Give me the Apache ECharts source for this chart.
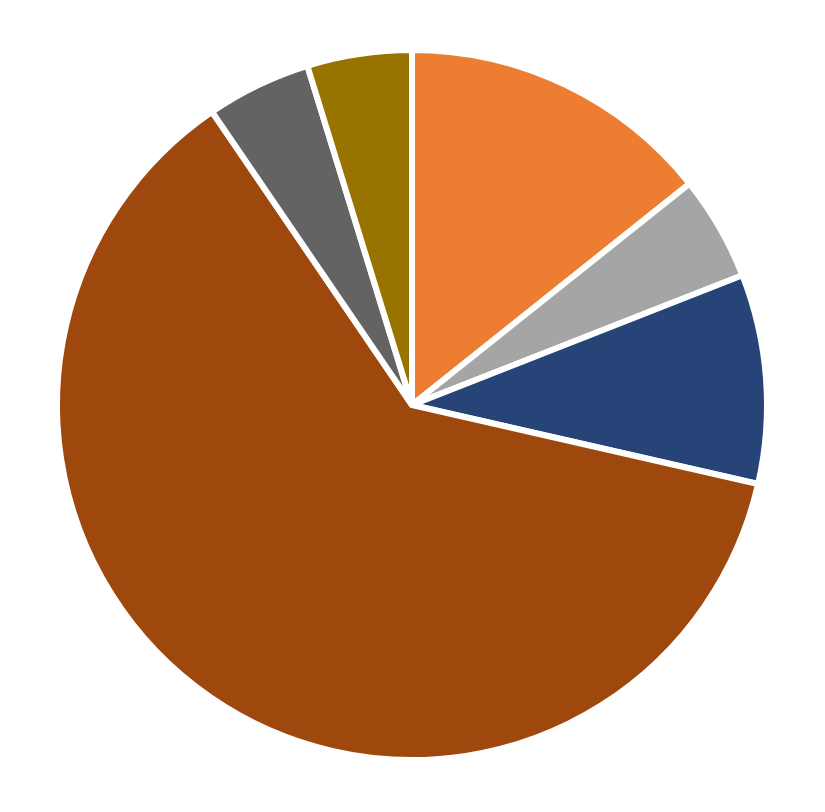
<!DOCTYPE html>
<html>
<head>
<meta charset="utf-8">
<script src="https://cdn.jsdelivr.net/npm/echarts@6/dist/echarts.min.js"></script>
<style>
  html, body { margin: 0; padding: 0; background: #fff; }
  #chart { width: 825px; height: 812px; }
</style>
</head>
<body>
<div id="chart"></div>
<script>
// slice names and values, clockwise from 12 o'clock
const categories = ['Slice 1', 'Slice 2', 'Slice 3', 'Slice 4', 'Slice 5', 'Slice 6'];
const values = [3, 1, 2, 13, 1, 1];
const colors = ['#ED7D31', '#A5A5A5', '#264478', '#9E480E', '#636363', '#997300'];

const chart = echarts.init(document.getElementById('chart'));

const option = {
    backgroundColor: '#ffffff',
    animation: false,
    series: [{
        type: 'pie',
        center: [412, 405],
        radius: 355,
        startAngle: 90,
        clockwise: true,
        label: { show: false },
        labelLine: { show: false },
        itemStyle: {
            borderColor: '#ffffff',
            borderWidth: 6
        },
        emphasis: { disabled: true },
        data: categories.map((name, i) => ({
            name: name,
            value: values[i],
            itemStyle: { color: colors[i] }
        }))
    }]
};

chart.setOption(option);
</script>
</body>
</html>
